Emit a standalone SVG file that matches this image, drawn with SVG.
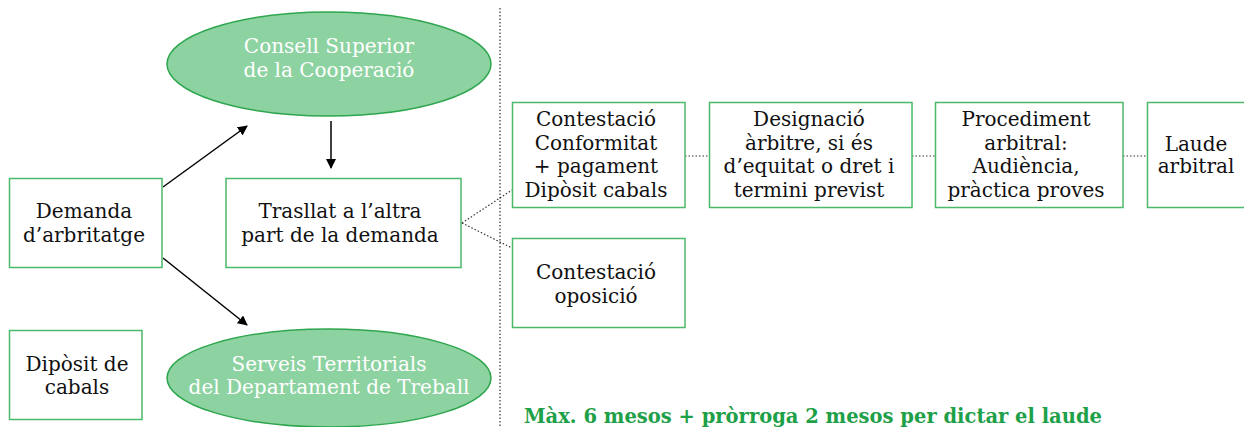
<svg xmlns="http://www.w3.org/2000/svg" width="1244" height="427" viewBox="0 0 1244 427">
<style>
.box{fill:#fff;stroke:#4cb86a;stroke-width:1.5}
.ell{fill:#8dd2a1;stroke:#2ea64e;stroke-width:1.5}
.t{font-family:"DejaVu Serif","Liberation Serif",serif;font-size:20px;fill:#111;text-anchor:middle}
.w{fill:#fff}
.dot{stroke:#333;stroke-width:1.2;stroke-dasharray:1.5 2;fill:none}
.arr{stroke:#000;stroke-width:1.5;fill:none;marker-end:url(#ah)}
.note{font-family:"DejaVu Serif","Liberation Serif",serif;font-size:19.5px;font-weight:bold;fill:#1ea048}
</style>
<defs>
<marker id="ah" markerWidth="10" markerHeight="10" refX="9" refY="5" orient="auto" markerUnits="userSpaceOnUse">
<path d="M0,0 L10,5 L0,10 Z" fill="#000"/>
</marker>
</defs>
<rect width="1244" height="427" fill="#fff"/>
<g id="connectors">
<line class="dot" x1="500" y1="8" x2="500" y2="427"/>
<line class="arr" x1="163" y1="187" x2="247" y2="126"/>
<line class="arr" x1="331" y1="121" x2="331" y2="168"/>
<line class="arr" x1="163" y1="258" x2="247" y2="325"/>
<line class="dot" x1="462" y1="223" x2="512" y2="190"/>
<line class="dot" x1="462" y1="223" x2="512" y2="248"/>
<line class="dot" x1="685" y1="156" x2="709" y2="156"/>
<line class="dot" x1="912" y1="156" x2="935" y2="156"/>
<line class="dot" x1="1123" y1="156" x2="1147" y2="156"/>
</g>
<g id="consell">
<ellipse class="ell" cx="329" cy="64" rx="162" ry="52"/>
<text class="t w" x="329" y="53">Consell Superior</text>
<text class="t w" x="329" y="77">de la Cooperació</text>
</g>
<g id="serveis">
<ellipse class="ell" cx="329" cy="378" rx="162" ry="49"/>
<text class="t w" x="329" y="371">Serveis Territorials</text>
<text class="t w" x="329" y="394">del Departament de Treball</text>
</g>
<g id="demanda">
<rect class="box" x="9.5" y="178.5" width="152.5" height="89"/>
<text class="t" x="84" y="218">Demanda</text>
<text class="t" x="84" y="242">d’arbritatge</text>
</g>
<g id="trasllat">
<rect class="box" x="226" y="178.5" width="235" height="89"/>
<text class="t" x="340" y="218">Trasllat a l’altra</text>
<text class="t" x="340" y="242">part de la demanda</text>
</g>
<g id="diposit">
<rect class="box" x="9.5" y="330.5" width="132.5" height="89"/>
<text class="t" x="77" y="371">Dipòsit de</text>
<text class="t" x="77" y="394">cabals</text>
</g>
<g id="contestacio1">
<rect class="box" x="512.5" y="102.5" width="172.5" height="105"/>
<text class="t" x="596" y="126">Contestació</text>
<text class="t" x="596" y="150">Conformitat</text>
<text class="t" x="596" y="173">+ pagament</text>
<text class="t" x="596" y="197">Dipòsit cabals</text>
</g>
<g id="designacio">
<rect class="box" x="709.5" y="102.5" width="202.5" height="105"/>
<text class="t" x="809" y="126">Designació</text>
<text class="t" x="809" y="150">àrbitre, si és</text>
<text class="t" x="809" y="173">d’equitat o dret i</text>
<text class="t" x="809" y="197">termini previst</text>
</g>
<g id="procediment">
<rect class="box" x="935.5" y="102.5" width="187.5" height="105"/>
<text class="t" x="1026" y="126">Procediment</text>
<text class="t" x="1026" y="150">arbitral:</text>
<text class="t" x="1026" y="173">Audiència,</text>
<text class="t" x="1026" y="197">pràctica proves</text>
</g>
<g id="laude">
<rect class="box" x="1147.5" y="102.5" width="110" height="105"/>
<text class="t" x="1196" y="151">Laude</text>
<text class="t" x="1196" y="173">arbitral</text>
</g>
<g id="contestacio2">
<rect class="box" x="512.5" y="238.5" width="172.5" height="89"/>
<text class="t" x="596" y="279">Contestació</text>
<text class="t" x="596" y="303">oposició</text>
</g>
<g id="nota">
<text class="note" x="524" y="423">Màx. 6 mesos + pròrroga 2 mesos per dictar el laude</text>
</g>
</svg>
